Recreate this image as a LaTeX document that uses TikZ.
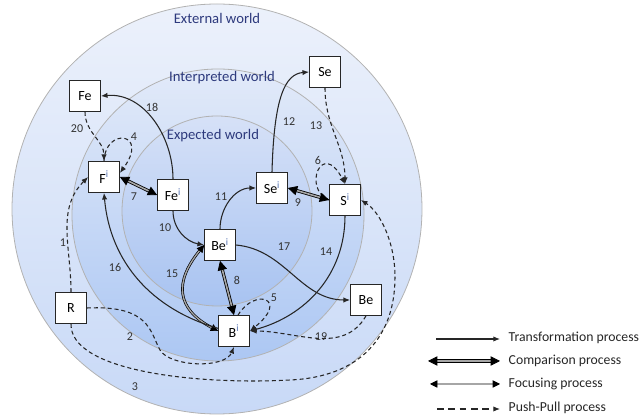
\documentclass[tikz,border=0pt]{standalone}
\usepackage{fontspec}
\setmainfont{Carlito}
\usetikzlibrary{arrows.meta}
\definecolor{outtop}{RGB}{236,241,251}
\definecolor{outbot}{RGB}{200,217,247}
\definecolor{inttop}{RGB}{226,234,249}
\definecolor{intbot}{RGB}{172,199,243}
\definecolor{exptop}{RGB}{214,225,247}
\definecolor{expbot}{RGB}{168,195,241}
\definecolor{worldcol}{RGB}{45,58,125}
\definecolor{supcol}{RGB}{80,110,175}
\newcommand{\upi}{\textsuperscript{\color{supcol}i}}

\begin{document}
\begin{tikzpicture}[x=0.75pt,y=0.75pt,
  box/.style={draw=black!85,line width=0.8pt,fill=white,minimum width=23pt,
    minimum height=23pt,inner sep=0pt,font=\fontsize{10.5}{12}\selectfont},
  lbl/.style={font=\fontsize{9}{10}\selectfont,text=black!80},
  world/.style={font=\fontsize{11}{13}\selectfont,text=worldcol},
  legtext/.style={anchor=west,font=\fontsize{10.3}{12}\selectfont,text=black!85},
  trans/.style={draw=black!85,line width=0.8pt,-{Latex[length=5pt,width=4pt]}},
  push/.style={trans,dash pattern=on 3pt off 2.2pt},
  comp/.style={draw=black,line width=0.6pt,double=gray!70,double distance=1.2pt,
    {Triangle[length=7pt,width=7pt]}-{Triangle[length=7pt,width=7pt]}},
  focus/.style={draw=black,line width=0.5pt,double=gray!70,double distance=1pt,
    {Triangle[length=5.5pt,width=5.5pt]}-{Triangle[length=5.5pt,width=5.5pt]}}]
  \useasboundingbox (0,0) rectangle (640,417);
  % worlds
  \draw[gray!60,line width=0.6pt,top color=outtop,bottom color=outbot] (217,208) circle (205);
  \draw[gray!60,line width=0.6pt,top color=inttop,bottom color=intbot] (218,202) circle (146);
  \draw[gray!60,line width=0.6pt,top color=exptop,bottom color=expbot] (217,206) circle (95);
  \node[world] (ext) at (217,399) {External world};
  \node[world] (int) at (222,339) {Interpreted world};
  \node[world] (exp) at (213,281) {Expected world};
  % boxes
  \node[box] (Fe) at (85,321) {Fe};
  \node[box] (Se) at (325,345) {Se};
  \node[box] (Fi) at (104,240) {F\upi};
  \node[box] (Fei) at (173,222) {Fe\upi};
  \node[box] (Sei) at (272,229) {Se\upi};
  \node[box] (Si) at (345,217) {S\upi};
  \node[box] (Bei) at (220,172) {Be\upi};
  \node[box] (R) at (71,109) {R};
  \node[box] (Be) at (366,117) {Be};
  \node[box] (Bi) at (234,86) {B\upi};
  % processes
  \draw[push] (R.north) to[out=90,in=225] (Fi.west);
  \draw[push] (R.east) .. controls (150,112) and (150,85) .. (160,67)
    .. controls (170,50) and (225,48) .. (Bi.south);
  \draw[push] (R.south) .. controls (70,45) and (200,32) .. (290,37)
    .. controls (360,40) and (395,80) .. (395,140)
    .. controls (395,175) and (380,205) .. (Si.east);
  \draw[push] (Fi.north) .. controls (105,290) and (150,285) .. ([yshift=3pt]Fi.east);
  \draw[push] ([xshift=3pt]Bi.north) .. controls (255,130) and (290,118) .. (Bi.east);
  \draw[push] (Si.west) .. controls (302,228) and (322,278) .. (Si.north);
  \draw[comp] (Fi.east) -- (Fei.west);
  \draw[comp] (Bei.south) -- (Bi.north);
  \draw[comp] (Sei.east) -- (Si.west);
  \draw[trans] (Fei.south) to[out=-90,in=170] (Bei.west);
  \draw[trans] (Bei.north) to[out=90,in=180] (Sei.west);
  \draw[trans] (Sei.north) .. controls (274,320) and (285,343) .. (Se.west);
  \draw[push] (Se.south) to[out=-90,in=90] (Si.north);
  \draw[trans] (Si.south) to[out=-90,in=15] (Bi.east);
  \draw[focus] (Bi.west) to[out=152,in=231,looseness=1.4] (Bei.west);
  \draw[trans,{Latex[length=5pt,width=4pt]}-] (Fi.south) to[out=-85,in=164] ([yshift=2pt]Bi.west);
  \draw[trans] (Bei.east) to[out=-5,in=180] (Be.west);
  \draw[trans] (Fei.north) to[out=90,in=5] (Fe.east);
  \draw[push] (Be.south) to[out=-120,in=0] (Bi.east);
  \draw[push] (Fe.south) to[out=-90,in=90] (Fi.north);
  \foreach \n/\x/\y in {1/63/174,2/130/80,3/135/30,4/134/280,5/274/119,6/318/257,
      7/134/220,8/237/137,9/298/214,10/165/189,11/221/220,12/289/295,13/316/291,
      14/326/165,15/172/143,16/115/150,17/284/170,18/152/310,19/321/80,20/77/288}
    \node[lbl] (n\n) at (\x,\y) {\n};
  % legend
  \coordinate (ta) at (436,78);  \coordinate (tb) at (500,78);
  \coordinate (ca) at (428,56);  \coordinate (cb) at (500,56);
  \coordinate (fa) at (430,33);  \coordinate (fb) at (500,33);
  \coordinate (pa) at (437,8);   \coordinate (pb) at (500,8);
  \draw[trans] (ta) -- (tb);
  \draw[comp] (ca) -- (cb);
  \draw[focus] (fa) -- (fb);
  \draw[push,dash pattern=on 5pt off 3.5pt] (pa) -- (pb);
  \node[legtext] (tl) at (504,79) {Transformation process};
  \node[legtext] (cl) at (504,56) {Comparison process};
  \node[legtext] (fl) at (504,33) {Focusing process};
  \node[legtext] (pl) at (504,9) {Push-Pull process};
\end{tikzpicture}
\end{document}
